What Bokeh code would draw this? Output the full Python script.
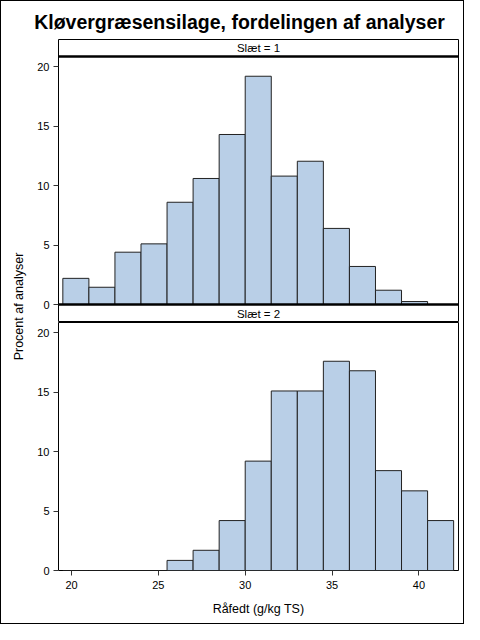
import math
from bokeh.plotting import figure
from bokeh.layouts import column, row
from bokeh.models import Range1d, FixedTicker, Span
from bokeh.embed import file_html
from bokeh.resources import INLINE
from bokeh.core.properties import value

# ---------------- data ----------------
title_text = "Kløvergræsensilage, fordelingen af analyser"
x_label = "Råfedt (g/kg TS)"
y_label = "Procent af analyser"
panel_labels = ["Slæt = 1", "Slæt = 2"]
bin_edges = [19.5, 21.0, 22.5, 24.0, 25.5, 27.0, 28.5, 30.0, 31.5, 33.0,
             34.5, 36.0, 37.5, 39.0, 40.5, 42.0]
pct_slaet1 = [2.2, 1.45, 4.4, 5.1, 8.6, 10.6, 14.3, 19.2, 10.8, 12.05,
              6.4, 3.2, 1.2, 0.25, 0.0]
pct_slaet2 = [0.0, 0.0, 0.0, 0.0, 0.85, 1.7, 4.2, 9.2, 15.1, 15.1,
              17.6, 16.8, 8.4, 6.7, 4.2]
x_ticks = [20, 25, 30, 35, 40]
y_ticks = [0, 5, 10, 15, 20]

# ---------------- style ----------------
FONT = "Liberation Sans"
FILL = "#B9CFE7"
EDGE = "#222222"
X_START, X_END = 19.25, 42.28
PANEL_TOP = 20.86          # top of the data area of each panel
UPP = PANEL_TOP / 248.0    # data units per pixel (248 px data area)
HDR1_TOP = PANEL_TOP + 17 * UPP
HDR2_BOT = -18 * UPP

x_range = Range1d(X_START, X_END)


def style_yaxis(p):
    ya = p.yaxis[0]
    ya.ticker = FixedTicker(ticks=y_ticks)
    ya.axis_line_color = None
    ya.major_tick_out = 5
    ya.major_tick_in = 0
    ya.major_tick_line_color = "#333333"
    ya.minor_tick_line_color = None
    ya.major_label_standoff = 4
    ya.major_label_text_font = FONT
    ya.major_label_text_font_size = "11px"
    ya.major_label_text_color = "black"


def base_fig(height, y_range, bottom):
    p = figure(width=434, height=height, x_range=x_range, y_range=y_range,
               output_backend="svg", toolbar_location=None,
               x_axis_location="below" if bottom else None,
               min_border_left=29, min_border_right=5,
               min_border_top=0 if bottom else 1,
               min_border_bottom=53 if bottom else 0)
    p.grid.visible = False
    p.outline_line_color = "black"
    p.outline_line_width = 1
    return p


def header_text(p, y, label):
    p.text(x=[(X_START + X_END) / 2], y=[y], text=[label],
           text_align="center", text_baseline="middle",
           text_font=value(FONT), text_font_size="11.5px", text_color="black")


# top panel: header 1 + panel 1 + header 2 strip
p1 = base_fig(284, Range1d(HDR2_BOT, HDR1_TOP), False)
p1.quad(left=bin_edges[:-1], right=bin_edges[1:], bottom=0, top=pct_slaet1,
        fill_color=FILL, line_color=EDGE, line_width=1)
p1.add_layout(Span(location=PANEL_TOP, dimension="width",
                   line_color="black", line_width=2.5))
p1.add_layout(Span(location=0, dimension="width",
                   line_color="black", line_width=2.5))
header_text(p1, (PANEL_TOP + HDR1_TOP) / 2, panel_labels[0])
header_text(p1, HDR2_BOT / 2, panel_labels[1])
style_yaxis(p1)

# bottom panel: panel 2 with x axis
p2 = base_fig(301, Range1d(0, PANEL_TOP), True)
p2.quad(left=bin_edges[:-1], right=bin_edges[1:], bottom=0, top=pct_slaet2,
        fill_color=FILL, line_color=EDGE, line_width=1)
style_yaxis(p2)
xa = p2.xaxis[0]
xa.ticker = FixedTicker(ticks=x_ticks)
xa.axis_line_color = None
xa.major_tick_out = 5
xa.major_tick_in = 0
xa.major_tick_line_color = "#333333"
xa.minor_tick_line_color = None
xa.major_label_standoff = 5
xa.major_label_text_font = FONT
xa.major_label_text_font_size = "11px"
xa.major_label_text_color = "black"
xa.axis_label = x_label
xa.axis_label_standoff = 10
xa.axis_label_text_font = FONT
xa.axis_label_text_font_size = "12.5px"
xa.axis_label_text_font_style = "normal"
xa.axis_label_text_color = "black"

# y-axis label spanning both panels
YL_H = 585
ylab = figure(width=28, height=YL_H, x_range=Range1d(0, 28),
              y_range=Range1d(0, YL_H), output_backend="svg",
              toolbar_location=None, x_axis_location=None,
              y_axis_location=None, min_border=0)
ylab.grid.visible = False
ylab.outline_line_color = None
ylab.text(x=[17], y=[YL_H - 268], text=[y_label], angle=math.pi / 2,
          text_align="center", text_baseline="middle",
          text_font=value(FONT), text_font_size="12.5px", text_color="black")

# title
T_H = 37
tfig = figure(width=462, height=T_H, x_range=Range1d(0, 462),
              y_range=Range1d(0, T_H), output_backend="svg",
              toolbar_location=None, x_axis_location=None,
              y_axis_location=None, min_border=0)
tfig.grid.visible = False
tfig.outline_line_color = None
tfig.text(x=[238], y=[T_H - 20], text=[title_text], text_align="center",
          text_baseline="middle", text_font=value(FONT),
          text_font_size="19.5px", text_font_style="bold", text_color="black")

root = column(tfig, row(ylab, column(p1, p2)),
              styles={"border": "1px solid black"})

open("out.html", "w").write(file_html(root, INLINE, title="chart"))
